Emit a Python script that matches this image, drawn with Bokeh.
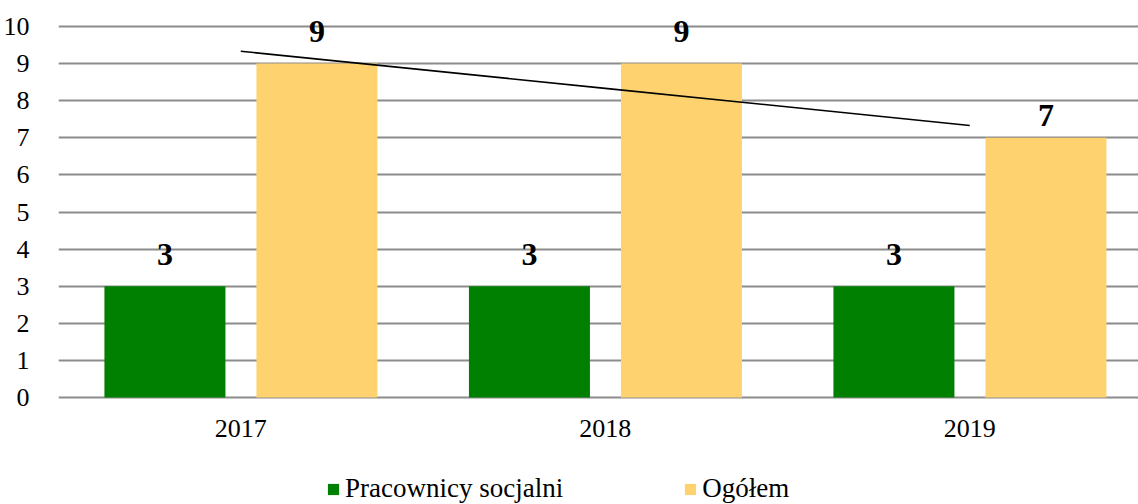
import numpy as np
from bokeh.plotting import figure
from bokeh.models import ColumnDataSource, Legend, LegendItem, Range1d
from bokeh.core.properties import value
from bokeh.embed import file_html
from bokeh.resources import INLINE

years = ["2017", "2018", "2019"]
pracownicy = [3, 3, 3]
ogolem = [9, 9, 7]
series_names = ["Pracownicy socjalni", "Ogółem"]
y_ticks = list(range(0, 11))

FONT = "Liberation Serif"
GREEN = "#008000"
YELLOW = "#FED36F"
GRID = "#8c8c8c"

W, H = 1138, 504
TOP, LEFT = 26, 58
ZERO_PX = 397
GROUP_PX = 364.5
px_per_unit = (ZERO_PX - TOP) / 10.0
ymin = -(H - ZERO_PX) / px_per_unit
ymax = 10 + TOP / px_per_unit
xmax = (W - LEFT) / GROUP_PX

centers = np.arange(len(years)) + 0.5
OFF_A, OFF_B, BW = -0.208, 0.209, 0.332

# label placement (style): pixel lift of each value label above its bar
lift_a = [-32, -32, -32]
lift_b = [-32, -32, -22]

src = ColumnDataSource(dict(
    xa=centers + OFF_A,
    xb=centers + OFF_B,
    prac=pracownicy,
    og=ogolem,
    prac_lbl=[str(v) for v in pracownicy],
    og_lbl=[str(v) for v in ogolem],
    lift_a=lift_a,
    lift_b=lift_b,
))

p = figure(width=W, height=H, x_range=Range1d(0, xmax), y_range=Range1d(ymin, ymax),
           output_backend="svg", toolbar_location=None,
           min_border_left=LEFT, min_border_right=0, min_border_top=0, min_border_bottom=0)
p.outline_line_color = None
p.background_fill_color = "white"

r1 = p.vbar(x="xa", top="prac", width=BW, source=src, fill_color=GREEN, line_color=None)
r2 = p.vbar(x="xb", top="og", width=BW, source=src, fill_color=YELLOW, line_color=None)

# trend line (linear fit of Ogółem)
xi = np.arange(len(ogolem))
k, b = np.polyfit(xi, ogolem, 1)
trend = list(k * xi + b)
p.line(x=list(centers), y=trend, line_color="black", line_width=1.6)

for xf, fld, lbl, lift in [("xa", "prac", "prac_lbl", "lift_a"), ("xb", "og", "og_lbl", "lift_b")]:
    p.text(x=xf, y=fld, text=lbl, source=src,
           text_font=value(FONT), text_font_size="32px", text_font_style="bold",
           text_align="center", text_baseline="alphabetic", y_offset=lift, text_color="black")

# category labels
p.text(x=list(centers), y=[0] * len(years), text=years,
       text_font=value(FONT), text_font_size="26px", text_align="center",
       text_baseline="alphabetic", y_offset=31, text_color="black")

p.ygrid.ticker = y_ticks
p.ygrid.grid_line_color = GRID
p.ygrid.grid_line_width = 2
p.xgrid.grid_line_color = None
p.xaxis.visible = False

p.yaxis.ticker = y_ticks
p.yaxis.axis_line_color = None
p.yaxis.major_tick_line_color = None
p.yaxis.minor_tick_line_color = None
p.yaxis.major_label_text_font = FONT
p.yaxis.major_label_text_font_size = "26px"
p.yaxis.major_label_text_color = "black"
p.yaxis.major_label_standoff = 23

legend = Legend(items=[LegendItem(label=series_names[0], renderers=[r1]),
                       LegendItem(label=series_names[1], renderers=[r2])],
                orientation="horizontal", location=(268, 0),
                label_text_font=FONT, label_text_font_size="27px", label_text_color="black",
                glyph_width=14, glyph_height=14, spacing=120, label_standoff=5,
                border_line_color=None, background_fill_alpha=0, margin=0, padding=0)
p.add_layout(legend)

open("out.html", "w").write(file_html(p, INLINE))
